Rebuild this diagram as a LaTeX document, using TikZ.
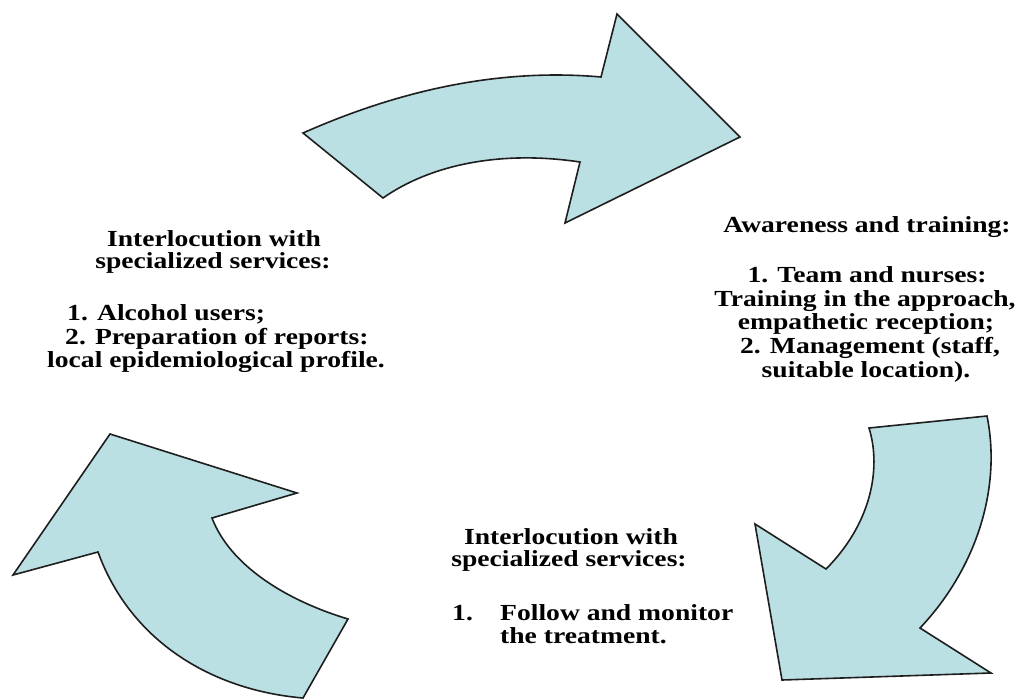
\documentclass[tikz,border=0pt]{standalone}
\usepackage{fontspec}
\setmainfont{Liberation Serif}[FakeStretch=1.2]
\definecolor{arrowfill}{RGB}{186,224,228}
\definecolor{arrowline}{RGB}{30,30,30}
\begin{document}
\begin{tikzpicture}[x=1pt,y=-1pt,
  bigarrow/.style={fill=arrowfill,draw=arrowline,line width=1.6pt,line join=miter},
  txt/.style={font=\fontsize{23}{24}\selectfont\bfseries,inner sep=0pt,anchor=base},
  txtl/.style={txt,anchor=base west}]
\useasboundingbox (0,0) rectangle (1020,699);
% top arrow
\path[bigarrow] (303,133) .. controls (400,90) and (500,68) .. (601,77)
  -- (617,14) -- (740,137) -- (565,223) -- (580,162)
  .. controls (500,150) and (430,165) .. (383,198) -- cycle;
% bottom-right arrow
\path[bigarrow] (987,416) -- (869,428)
  .. controls (882,470) and (870,525) .. (826,569)
  -- (755,524) -- (782,680) -- (991,673) -- (920,628)
  .. controls (975,570) and (1002,490) .. (987,416) -- cycle;
% bottom-left arrow
\path[bigarrow] (110,434) -- (297,493) -- (212,518)
  .. controls (230,565) and (285,600) .. (348,619)
  -- (303,698)
  .. controls (210,690) and (130,640) .. (98,552)
  -- (13,575) -- cycle;
% left text
\node[txt] (l1) at (214,246) {Interlocution with};
\node[txt] (l2) at (213,268) {specialized services:};
\node[txtl] (l3) at (67,320) {1. Alcohol users;};
\node[txtl] (l4) at (65,344) {2. Preparation of reports:};
\node[txt] (l5) at (216,367) {local epidemiological profile.};
% right text
\node[txt] (r1) at (867,232) {Awareness and training:};
\node[txt] (r2) at (867,282) {1. Team and nurses:};
\node[txt] (r3) at (865,306) {Training in the approach,};
\node[txt] (r4) at (866,329) {empathetic reception;};
\node[txt] (r5) at (870,353) {2. Management (staff,};
\node[txt] (r6) at (866,377) {suitable location).};
% bottom text
\node[txt] (b1) at (571,544) {Interlocution with};
\node[txt] (b2) at (569,566) {specialized services:};
\node[txtl] (b3) at (452,620) {1.};
\node[txtl] (b4) at (500,620) {Follow and monitor};
\node[txtl] (b5) at (500,643) {the treatment.};
\end{tikzpicture}
\end{document}
